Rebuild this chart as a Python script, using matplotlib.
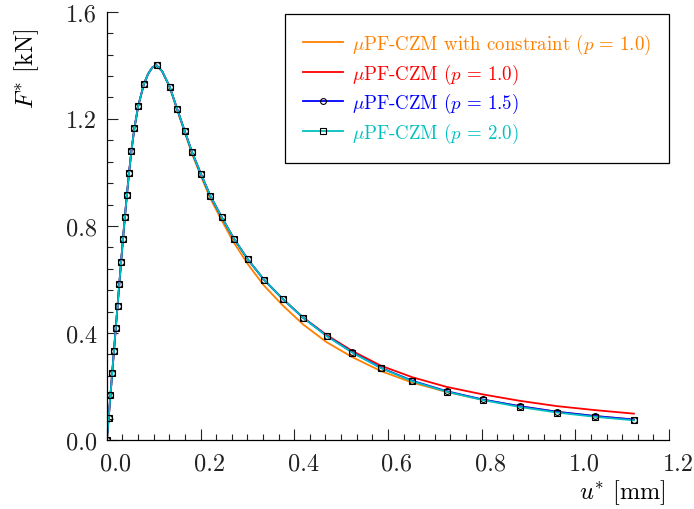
import matplotlib
matplotlib.use('Agg')
import matplotlib.pyplot as plt
from matplotlib.ticker import MultipleLocator, FormatStrFormatter
from matplotlib.transforms import ScaledTranslation

plt.rcParams['font.family'] = 'serif'
plt.rcParams['font.serif'] = ['cmr10']
plt.rcParams['mathtext.fontset'] = 'cm'
plt.rcParams['axes.unicode_minus'] = False
plt.rcParams['axes.formatter.use_mathtext'] = True

# displacement [mm], shared by all runs
u_mm = [0.000, 0.0038, 0.0076, 0.0113, 0.0151, 0.0189, 0.0227, 0.0265, 0.0304, 0.0343,
        0.0384, 0.0427, 0.0473, 0.0524, 0.0586, 0.0668, 0.0790, 0.0880, 0.0970, 0.1060,
        0.1180, 0.1340, 0.1500, 0.1660, 0.1820, 0.2010, 0.2210, 0.2450, 0.2710, 0.3010,
        0.3350, 0.3750, 0.4190, 0.4690, 0.5240, 0.5850, 0.6520, 0.7250, 0.8020, 0.8810,
        0.9610, 1.0430, 1.1250]

# force [kN]
F_constraint_p10 = [0.000, 0.083, 0.167, 0.250, 0.333, 0.417, 0.500, 0.583, 0.667, 0.750,
                    0.833, 0.916, 0.998, 1.081, 1.164, 1.247, 1.330, 1.368, 1.392, 1.400,
                    1.377, 1.318, 1.233, 1.150, 1.068, 0.985, 0.902, 0.821, 0.738, 0.657,
                    0.578, 0.504, 0.432, 0.366, 0.310, 0.258, 0.215, 0.180, 0.151, 0.127,
                    0.106, 0.090, 0.077]
F_p10 = [0.000, 0.083, 0.167, 0.250, 0.333, 0.417, 0.500, 0.583, 0.667, 0.750,
         0.833, 0.916, 0.998, 1.081, 1.164, 1.247, 1.330, 1.368, 1.392, 1.400,
         1.378, 1.320, 1.237, 1.155, 1.075, 0.993, 0.912, 0.833, 0.753, 0.675,
         0.600, 0.528, 0.458, 0.393, 0.333, 0.278, 0.235, 0.199, 0.171, 0.147,
         0.127, 0.112, 0.099]
F_p15 = [0.000, 0.083, 0.167, 0.250, 0.333, 0.417, 0.500, 0.583, 0.667, 0.750,
         0.833, 0.916, 0.998, 1.081, 1.164, 1.247, 1.330, 1.368, 1.392, 1.400,
         1.378, 1.320, 1.237, 1.155, 1.075, 0.993, 0.912, 0.833, 0.753, 0.675,
         0.600, 0.528, 0.457, 0.390, 0.328, 0.270, 0.222, 0.183, 0.152, 0.127,
         0.106, 0.090, 0.077]
F_p20 = [0.000, 0.083, 0.167, 0.250, 0.333, 0.417, 0.500, 0.583, 0.667, 0.750,
         0.833, 0.916, 0.998, 1.081, 1.164, 1.247, 1.330, 1.368, 1.392, 1.400,
         1.378, 1.320, 1.237, 1.155, 1.075, 0.993, 0.912, 0.833, 0.753, 0.675,
         0.600, 0.528, 0.457, 0.389, 0.327, 0.269, 0.220, 0.181, 0.150, 0.124,
         0.103, 0.087, 0.074]

# output steps that carry a marker
marked_steps = list(range(0, 17)) + [19] + list(range(21, 43))

labels = [r'$\mu$PF-CZM with constraint ($p\,=\,1.0$)',
          r'$\mu$PF-CZM ($p\,=\,1.0$)',
          r'$\mu$PF-CZM ($p\,=\,1.5$)',
          r'$\mu$PF-CZM ($p\,=\,2.0$)']
colors = ['#FF8000', '#FF0000', '#0000FF', '#00C0C0']

fig = plt.figure(figsize=(6.94, 5.10), dpi=100)
ax = fig.add_axes([0.154, 0.135, 0.810, 0.840])

ax.plot(u_mm, F_constraint_p10, color=colors[0], lw=1.3, label=labels[0])
ax.plot(u_mm, F_p10, color=colors[1], lw=1.3, label=labels[1])
ax.plot(u_mm, F_p15, color=colors[2], lw=1.3, marker='o', ms=4.2, mfc='none', mec='black',
        mew=0.8, markevery=marked_steps, label=labels[2])
ax.plot(u_mm, F_p20, color=colors[3], lw=1.3, marker='s', ms=4.2, mfc='none', mec='black',
        mew=0.8, markevery=marked_steps, label=labels[3])

ax.set_xlim(0, 1.2)
ax.set_ylim(0, 1.6)
ax.xaxis.set_major_locator(MultipleLocator(0.2))
ax.xaxis.set_minor_locator(MultipleLocator(0.2 / 6))
ax.yaxis.set_major_locator(MultipleLocator(0.4))
ax.yaxis.set_minor_locator(MultipleLocator(0.08))
ax.xaxis.set_major_formatter(FormatStrFormatter('%.1f'))
ax.yaxis.set_major_formatter(FormatStrFormatter('%.1f'))

for side in ['top', 'right']:
    ax.spines[side].set_visible(False)
for side in ['left', 'bottom']:
    ax.spines[side].set_linewidth(0.9)

ax.tick_params(which='both', direction='in', width=0.8, labelsize=17.5, colors='#222222')
ax.tick_params(which='major', length=8, pad=9)
ax.tick_params(which='minor', length=4.5)
ax.tick_params(axis='y', which='major', pad=7)

shift = ScaledTranslation(0.09, 0, fig.dpi_scale_trans)
for lbl in ax.get_xticklabels():
    lbl.set_transform(lbl.get_transform() + shift)

ax.set_xlabel(r'$u^{*}$ [mm]', fontsize=17.5, ha='right')
ax.xaxis.set_label_coords(0.995, -0.087)
ax.set_ylabel(r'$F^{*}$ [kN]', fontsize=17.5, ha='right')
ax.yaxis.set_label_coords(-0.117, 0.962)

leg = ax.legend(loc='upper right', bbox_to_anchor=(1.0, 0.995), borderaxespad=0,
                fontsize=13.6, frameon=True, fancybox=False, framealpha=1,
                handlelength=2.1, handletextpad=0.5, labelspacing=0.28, borderpad=0.95)
leg.get_frame().set_edgecolor('black')
leg.get_frame().set_linewidth(0.9)
for text, c in zip(leg.get_texts(), colors):
    text.set_color(c)

fig.savefig('out.png', dpi=100)
